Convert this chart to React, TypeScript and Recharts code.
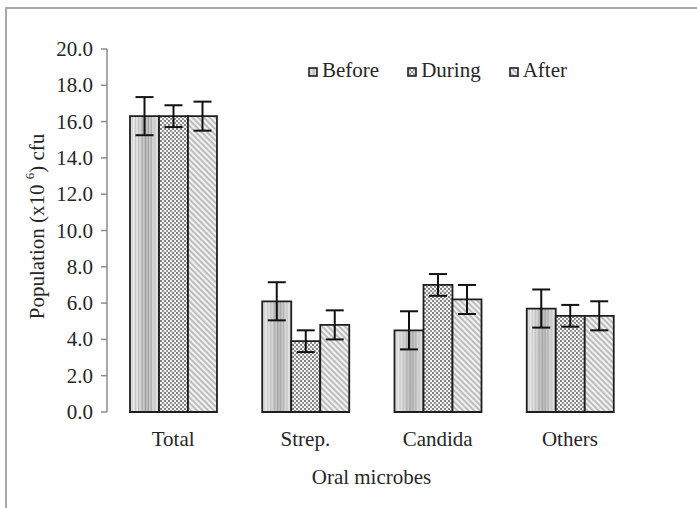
import React from 'react';
import { BarChart, Bar, XAxis, YAxis, ErrorBar } from 'recharts';

const categories = ['Total', 'Strep.', 'Candida', 'Others'];
const beforeValues = [16.3, 6.1, 4.5, 5.7];
const duringValues = [16.3, 3.9, 7.0, 5.3];
const afterValues = [16.3, 4.8, 6.2, 5.3];
const beforeErrors = [1.05, 1.05, 1.05, 1.05];
const duringErrors = [0.6, 0.6, 0.6, 0.6];
const afterErrors = [0.8, 0.8, 0.8, 0.8];
const yTicks = [0, 2, 4, 6, 8, 10, 12, 14, 16, 18, 20];
const boundaryTicks = [0, 1, 2, 3, 4];
const seriesNames = ['Before', 'During', 'After'];

const data = categories.map((c, i) => ({
  name: c,
  before: beforeValues[i],
  during: duringValues[i],
  after: afterValues[i],
  beforeErr: beforeErrors[i],
  duringErr: duringErrors[i],
  afterErr: afterErrors[i],
}));

const FONT = "'Liberation Serif', 'Times New Roman', serif";
const TEXT = '#262626';
const AXIS = '#8c8c8c';
const BAR_STROKE = '#1e1e1e';

const stripeColors = [
  '#e6e6e6', '#cfcfcf', '#e8e8e8', '#c4c4c4', '#dedede', '#bdbdbd', '#d4d4d4',
  '#a8a8a8', '#c9c9c9', '#9c9c9c', '#b8b8b8', '#a3a3a3', '#c2c2c2', '#b0b0b0',
  '#d6d6d6', '#c0c0c0', '#e3e3e3', '#cccccc',
];

const Patterns = () => (
  <defs>
    <pattern id="pBefore" patternUnits="objectBoundingBox" patternContentUnits="objectBoundingBox" width="1" height="1">
      {stripeColors.map((c, i) => (
        <rect key={i} x={i / stripeColors.length} y={0} width={1 / stripeColors.length + 0.002} height={1} fill={c} />
      ))}
    </pattern>
    <pattern id="pDuring" patternUnits="userSpaceOnUse" width="4" height="4">
      <rect x="0" y="0" width="4" height="4" fill="#f4f4f4" />
      <circle cx="1" cy="1" r="0.9" fill="#4a4a4a" />
      <circle cx="3" cy="3" r="0.9" fill="#6a6a6a" />
    </pattern>
    <pattern id="pAfter" patternUnits="userSpaceOnUse" width="4" height="4" patternTransform="rotate(-45)">
      <rect x="0" y="0" width="4" height="4" fill="#f2f2f2" />
      <line x1="1" y1="0" x2="1" y2="4" stroke="#a0a0a0" strokeWidth="1.3" />
    </pattern>
  </defs>
);

const legendFills = ['url(#pBefore)', 'url(#pDuring)', 'url(#pAfter)'];

const LegendBox = () => (
  <div style={{ position: 'absolute', left: 308, top: 60, display: 'flex', alignItems: 'center', fontFamily: FONT, fontSize: 21, color: TEXT, lineHeight: '21px' }}>
    {seriesNames.map((n, i) => (
      <div key={n} style={{ display: 'flex', alignItems: 'center', marginRight: 28 }}>
        <svg width={10} height={10} style={{ marginRight: 4, marginTop: 3 }}>
          <rect x={1} y={1} width={8} height={8} fill={legendFills[i]} stroke={BAR_STROKE} strokeWidth={1.6} />
        </svg>
        <span style={{ fontFamily: FONT }}>{n}</span>
      </div>
    ))}
  </div>
);

const YTick = (props: any) => {
  const { x, y, payload } = props;
  return (
    <text x={x} y={y} textAnchor="end" dominantBaseline="central" fontFamily={FONT} fontSize={21} fill={TEXT}>
      {Number(payload.value).toFixed(1)}
    </text>
  );
};

const XTick = (props: any) => {
  const { x, y, payload } = props;
  return (
    <text x={x} y={y} dy={15} textAnchor="middle" fontFamily={FONT} fontSize={21} fill={TEXT}>
      {payload.value}
    </text>
  );
};

const YLabel = (props: any) => {
  const vb = props.viewBox || {};
  const cx = (vb.x || 0) + 37;
  const cy = (vb.y || 0) + (vb.height || 0) / 2 - 4;
  return (
    <text
      x={cx}
      y={cy}
      transform={`rotate(-90, ${cx}, ${cy})`}
      textAnchor="middle"
      dominantBaseline="central"
      fontFamily={FONT}
      fontSize={21}
      fill={TEXT}
    >
      Population (x10 <tspan fontSize={13} dy={-8}>6</tspan><tspan dy={8}>) cfu</tspan>
    </text>
  );
};

const XLabel = (props: any) => {
  const vb = props.viewBox || {};
  return (
    <text
      x={(vb.x || 0) + (vb.width || 0) / 2}
      y={(vb.y || 0) + 72}
      textAnchor="middle"
      fontFamily={FONT}
      fontSize={21}
      fill={TEXT}
    >
      Oral microbes
    </text>
  );
};

export default function App() {
  return (
    <div style={{ position: 'fixed', left: 0, top: 0, width: 697, height: 508, overflow: 'hidden', background: '#fff', fontFamily: FONT }}>
      <div style={{ position: 'absolute', left: 5, top: 7, width: 760, height: 560, border: '2px solid #a9a9a9', boxSizing: 'border-box' }} />
      <BarChart
        width={697}
        height={508}
        data={data}
        margin={{ top: 49, right: 61, bottom: 0, left: 0 }}
        barGap={0}
        barSize={29}
        style={{ position: 'absolute', left: 0, top: 0, fontFamily: FONT }}
      >
        <Patterns />
        <XAxis
          xAxisId="grid"
          type="number"
          domain={[0, 4]}
          ticks={boundaryTicks}
          tick={false}
          height={0}
          axisLine={{ stroke: AXIS, strokeWidth: 1.5 }}
          tickLine={{ stroke: AXIS, strokeWidth: 1.5 }}
          tickSize={6}
          allowDataOverflow
        />
        <XAxis
          xAxisId="cat"
          dataKey="name"
          height={96}
          axisLine={false}
          tickLine={false}
          tickSize={6}
          tickMargin={13}
          tick={<XTick />}
          label={<XLabel />}
        />
        <YAxis
          width={107}
          domain={[0, 20]}
          ticks={yTicks}
          interval={0}
          axisLine={{ stroke: AXIS, strokeWidth: 1.5 }}
          tickLine={{ stroke: AXIS, strokeWidth: 1.5 }}
          tickSize={6}
          tickMargin={8}
          tick={<YTick />}
          label={<YLabel />}
        />
        <Bar xAxisId="cat" dataKey="before" name="Before" fill="url(#pBefore)" stroke={BAR_STROKE} strokeWidth={1.8} isAnimationActive={false}>
          <ErrorBar dataKey="beforeErr" width={9} stroke="#111" strokeWidth={2} />
        </Bar>
        <Bar xAxisId="cat" dataKey="during" name="During" fill="url(#pDuring)" stroke={BAR_STROKE} strokeWidth={1.8} isAnimationActive={false}>
          <ErrorBar dataKey="duringErr" width={9} stroke="#111" strokeWidth={2} />
        </Bar>
        <Bar xAxisId="cat" dataKey="after" name="After" fill="url(#pAfter)" stroke={BAR_STROKE} strokeWidth={1.8} isAnimationActive={false}>
          <ErrorBar dataKey="afterErr" width={9} stroke="#111" strokeWidth={2} />
        </Bar>
      </BarChart>
      <LegendBox />
    </div>
  );
}
